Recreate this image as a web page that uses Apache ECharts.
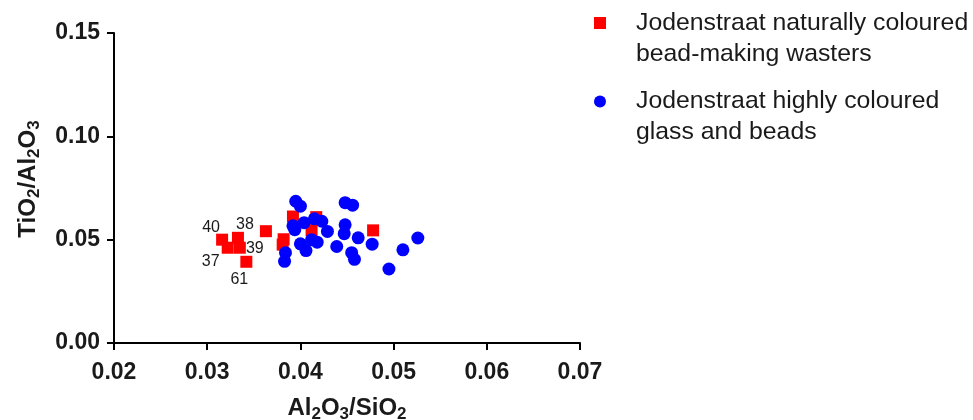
<!DOCTYPE html>
<html>
<head>
<meta charset="utf-8">
<script src="https://cdn.jsdelivr.net/npm/echarts@6/dist/echarts.min.js"></script>
<style>
  html, body { margin: 0; padding: 0; background: #ffffff; }
  #chart { width: 973px; height: 420px; }
</style>
</head>
<body>
<div id="chart"></div>
<script>
// Axis ticks
const xTicks = [0.02, 0.03, 0.04, 0.05, 0.06, 0.07];
const yTicks = [0.00, 0.05, 0.10, 0.15];

// Naturally coloured bead-making wasters (Al2O3/SiO2, TiO2/Al2O3) with sample IDs
const wasterX = [0.0316, 0.0322, 0.0333, 0.0335, 0.0342, 0.0363, 0.0382, 0.0381, 0.0392, 0.0417, 0.0412, 0.0478];
const wasterY = [0.0500, 0.0461, 0.0509, 0.0461, 0.0393, 0.0541, 0.0502, 0.0476, 0.0612, 0.0609, 0.0546, 0.0545];
const wasterId = ['40', '37', '38', '39', '61', '', '', '', '', '', '', ''];

// Highly coloured glass and beads
const glassX = [0.0395, 0.0400, 0.0392, 0.0394, 0.0404, 0.0415, 0.0423, 0.0429, 0.0400, 0.0406, 0.0412, 0.0418, 0.0384,
                0.0383, 0.0448, 0.0456, 0.0448, 0.0447, 0.0462, 0.0439, 0.0455, 0.0458, 0.0477, 0.0510, 0.0526, 0.0495];
const glassY = [0.0686, 0.0662, 0.0567, 0.0548, 0.0582, 0.0601, 0.0589, 0.0540, 0.0480, 0.0447, 0.0500, 0.0488, 0.0437,
                0.0395, 0.0679, 0.0667, 0.0572, 0.0529, 0.0509, 0.0467, 0.0437, 0.0405, 0.0478, 0.0451, 0.0508, 0.0358];

const seriesLines = [
  ['Jodenstraat naturally coloured', 'bead-making wasters'],
  ['Jodenstraat highly coloured', 'glass and beads']
];
const seriesNames = seriesLines.map(l => l.join(' '));

const FONT = '"Liberation Sans", Arial, Helvetica, sans-serif';
const INK = '#1a1a1a';

// Where each sample ID sits relative to its marker
const idOffset = {
  '40': [-11, -12],
  '37': [-17, 14],
  '38': [7, -13],
  '39': [15, 1],
  '61': [-7, 18]
};

function wasterPoint(x, i) {
  const id = wasterId[i];
  const item = { value: [x, wasterY[i]] };
  if (id) {
    item.label = {
      show: true,
      formatter: id,
      position: 'inside',
      offset: idOffset[id] || [0, 0],
      color: INK,
      fontFamily: FONT,
      fontSize: 16
    };
  }
  return item;
}

const subRich = {
  s: { fontFamily: FONT, fontWeight: 'bold', fontSize: 17, color: INK, verticalAlign: 'bottom', lineHeight: 17 }
};

const legendTops = [-23.5, 55];

const option = {
  animation: false,
  backgroundColor: '#ffffff',
  grid: { left: 114, right: 393, top: 33, bottom: 77, containLabel: false, outerBoundsMode: 'none' },
  xAxis: {
    type: 'value',
    min: xTicks[0],
    max: xTicks[xTicks.length - 1],
    interval: 0.01,
    name: 'Al{s|2}O{s|3}/SiO{s|2}',
    nameLocation: 'middle',
    nameGap: 50,
    nameTextStyle: { fontFamily: FONT, fontWeight: 'bold', fontSize: 24, color: INK, lineHeight: 30, rich: subRich },
    axisLine: { show: true, onZero: false, lineStyle: { color: '#000', width: 2 } },
    axisTick: { show: true, length: 7, lineStyle: { color: '#000', width: 2 } },
    axisLabel: { margin: 18, fontFamily: FONT, fontWeight: 'bold', fontSize: 23, color: INK, formatter: v => v.toFixed(2) },
    splitLine: { show: false }
  },
  yAxis: {
    type: 'value',
    min: yTicks[0],
    max: yTicks[yTicks.length - 1],
    interval: 0.05,
    name: 'TiO{s|2}/Al{s|2}O{s|3}',
    nameLocation: 'middle',
    nameRotate: 90,
    nameGap: 71,
    nameTextStyle: { fontFamily: FONT, fontWeight: 'bold', fontSize: 24, color: INK, lineHeight: 30, padding: [0, 0, 0, 18], rich: subRich },
    axisLine: { show: true, onZero: false, lineStyle: { color: '#000', width: 2 } },
    axisTick: { show: true, length: 7, lineStyle: { color: '#000', width: 2 } },
    axisLabel: { margin: 14, fontFamily: FONT, fontWeight: 'bold', fontSize: 23, color: INK, formatter: v => v.toFixed(2) },
    splitLine: { show: false }
  },
  legend: seriesNames.map((name, i) => ({
    data: [name],
    orient: 'vertical',
    left: 594,
    top: legendTops[i],
    padding: 0,
    itemWidth: 12,
    itemHeight: 12,
    selectedMode: false,
    formatter: () => '{g|}' + seriesLines[i][0] + '\n{g|}' + seriesLines[i][1],
    textStyle: {
      fontFamily: FONT,
      fontSize: 24.8,
      color: INK,
      lineHeight: 31,
      padding: [31, 0, 0, 0],
      rich: { g: { width: 25 } }
    }
  })),
  series: [
    {
      name: seriesNames[0],
      type: 'scatter',
      symbol: 'rect',
      symbolSize: 12,
      itemStyle: { color: '#ff0000', opacity: 1 },
      data: wasterX.map(wasterPoint),
      z: 2
    },
    {
      name: seriesNames[1],
      type: 'scatter',
      symbol: 'circle',
      symbolSize: 13,
      itemStyle: { color: '#0000ff', opacity: 1 },
      data: glassX.map((x, i) => [x, glassY[i]]),
      z: 3
    }
  ]
};

const chart = echarts.init(document.getElementById('chart'), null, { renderer: 'canvas' });
chart.setOption(option);
</script>
</body>
</html>
